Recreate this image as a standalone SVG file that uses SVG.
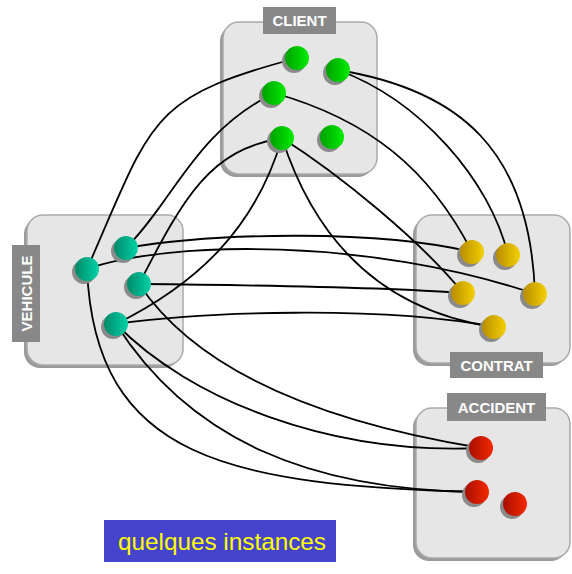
<svg xmlns="http://www.w3.org/2000/svg" width="572" height="574" viewBox="0 0 572 574">
<style>
.sh{fill:#9a9a9a}
.box{fill:#e6e6e6;stroke:#aaaaaa;stroke-width:1.5}
.lab{fill:#888888}
.lt{font-family:"Liberation Sans",Arial,sans-serif;font-weight:bold;font-size:15px;fill:#ffffff;text-anchor:middle}
.c{fill:none;stroke:#000;stroke-width:1.8}
.ns{fill:#8a8a8a}
</style>
<defs>
<linearGradient id="gG" x1="0" y1="0" x2="1" y2="0"><stop offset="0" stop-color="#00a000"/><stop offset="1" stop-color="#00ec00"/></linearGradient>
<linearGradient id="gT" x1="0" y1="0" x2="1" y2="0"><stop offset="0" stop-color="#008a68"/><stop offset="1" stop-color="#00d2a8"/></linearGradient>
<linearGradient id="gY" x1="0" y1="0" x2="1" y2="0"><stop offset="0" stop-color="#b88c00"/><stop offset="1" stop-color="#f4d000"/></linearGradient>
<linearGradient id="gR" x1="0" y1="0" x2="1" y2="0"><stop offset="0" stop-color="#a81000"/><stop offset="1" stop-color="#f42800"/></linearGradient>
</defs>

<g id="client">
<rect class="sh" x="220" y="25" width="154" height="152" rx="16"/>
<rect class="box" x="223" y="22" width="154" height="152" rx="16"/>
<rect class="lab" x="263" y="7" width="73" height="27"/>
<text class="lt" x="299.5" y="26">CLIENT</text>
</g>
<g id="vehicule">
<rect class="sh" x="24" y="218" width="156" height="150" rx="16"/>
<rect class="box" x="27" y="215" width="156" height="150" rx="16"/>
<rect class="lab" x="12" y="245" width="28" height="97"/>
<text class="lt" transform="translate(31.5 293.5) rotate(-90)" x="0" y="0">VEHICULE</text>
</g>
<g id="contrat">
<rect class="sh" x="413" y="218" width="154" height="148" rx="16"/>
<rect class="box" x="416" y="215" width="154" height="148" rx="16"/>
<rect class="lab" x="450" y="352" width="93" height="26"/>
<text class="lt" x="496.5" y="370.5">CONTRAT</text>
</g>
<g id="accident">
<rect class="sh" x="413" y="411" width="154" height="150" rx="16"/>
<rect class="box" x="416" y="408" width="154" height="150" rx="16"/>
<rect class="lab" x="447" y="393" width="99" height="28"/>
<text class="lt" x="496.5" y="412.5">ACCIDENT</text>
</g>

<g id="connectors">
<path class="c" d="M297,58 C147,98 153,119 87,269"/>
<path class="c" d="M274,93 C194,133 175,199 126,248"/>
<path class="c" d="M282,138 C210,150 185,195 139,284"/>
<path class="c" d="M282,138 C255,230 195,285 116,324"/>
<path class="c" d="M282,138 C340,175 420,240 463,293"/>
<path class="c" d="M282,138 C315,240 380,310 494,327"/>
<path class="c" d="M274,93 C370,120 430,170 472,252"/>
<path class="c" d="M338,70 C420,100 490,180 508,255"/>
<path class="c" d="M338,70 C460,90 530,150 535,294"/>
<path class="c" d="M126,248 C220,232 380,230 472,252"/>
<path class="c" d="M87,269 C170,240 370,238 535,294"/>
<path class="c" d="M139,284 C250,285 380,287 463,293"/>
<path class="c" d="M116,324 C200,312 380,305 494,327"/>
<path class="c" d="M139,284 C210,390 370,430 481,448"/>
<path class="c" d="M116,324 C190,400 330,455 481,448"/>
<path class="c" d="M116,324 C190,440 310,490 477,492"/>
<path class="c" d="M87,269 C95,460 230,485 477,492"/>
</g>

<g id="c1"><circle class="ns" cx="294" cy="61" r="12"/><circle cx="297" cy="58" r="12" fill="url(#gG)"/></g>
<g id="c2"><circle class="ns" cx="335" cy="73" r="12"/><circle cx="338" cy="70" r="12" fill="url(#gG)"/></g>
<g id="c3"><circle class="ns" cx="271" cy="96" r="12"/><circle cx="274" cy="93" r="12" fill="url(#gG)"/></g>
<g id="c4"><circle class="ns" cx="279" cy="141" r="12"/><circle cx="282" cy="138" r="12" fill="url(#gG)"/></g>
<g id="c5"><circle class="ns" cx="329" cy="140" r="12"/><circle cx="332" cy="137" r="12" fill="url(#gG)"/></g>

<g id="v1"><circle class="ns" cx="84" cy="272" r="12"/><circle cx="87" cy="269" r="12" fill="url(#gT)"/></g>
<g id="v2"><circle class="ns" cx="123" cy="251" r="12"/><circle cx="126" cy="248" r="12" fill="url(#gT)"/></g>
<g id="v3"><circle class="ns" cx="136" cy="287" r="12"/><circle cx="139" cy="284" r="12" fill="url(#gT)"/></g>
<g id="v4"><circle class="ns" cx="113" cy="327" r="12"/><circle cx="116" cy="324" r="12" fill="url(#gT)"/></g>

<g id="k1"><circle class="ns" cx="469" cy="255" r="12"/><circle cx="472" cy="252" r="12" fill="url(#gY)"/></g>
<g id="k2"><circle class="ns" cx="505" cy="258" r="12"/><circle cx="508" cy="255" r="12" fill="url(#gY)"/></g>
<g id="k3"><circle class="ns" cx="460" cy="296" r="12"/><circle cx="463" cy="293" r="12" fill="url(#gY)"/></g>
<g id="k4"><circle class="ns" cx="532" cy="297" r="12"/><circle cx="535" cy="294" r="12" fill="url(#gY)"/></g>
<g id="k5"><circle class="ns" cx="491" cy="330" r="12"/><circle cx="494" cy="327" r="12" fill="url(#gY)"/></g>

<g id="a1"><circle class="ns" cx="478" cy="451" r="12"/><circle cx="481" cy="448" r="12" fill="url(#gR)"/></g>
<g id="a2"><circle class="ns" cx="474" cy="495" r="12"/><circle cx="477" cy="492" r="12" fill="url(#gR)"/></g>
<g id="a3"><circle class="ns" cx="512" cy="507" r="12"/><circle cx="515" cy="504" r="12" fill="url(#gR)"/></g>

<g id="caption">
<rect x="104" y="520" width="232" height="42" fill="#4444cc"/>
<text x="118" y="550" font-family="'Liberation Sans',Arial,sans-serif" font-size="24.3" fill="#ffff00">quelques instances</text>
</g>
</svg>
